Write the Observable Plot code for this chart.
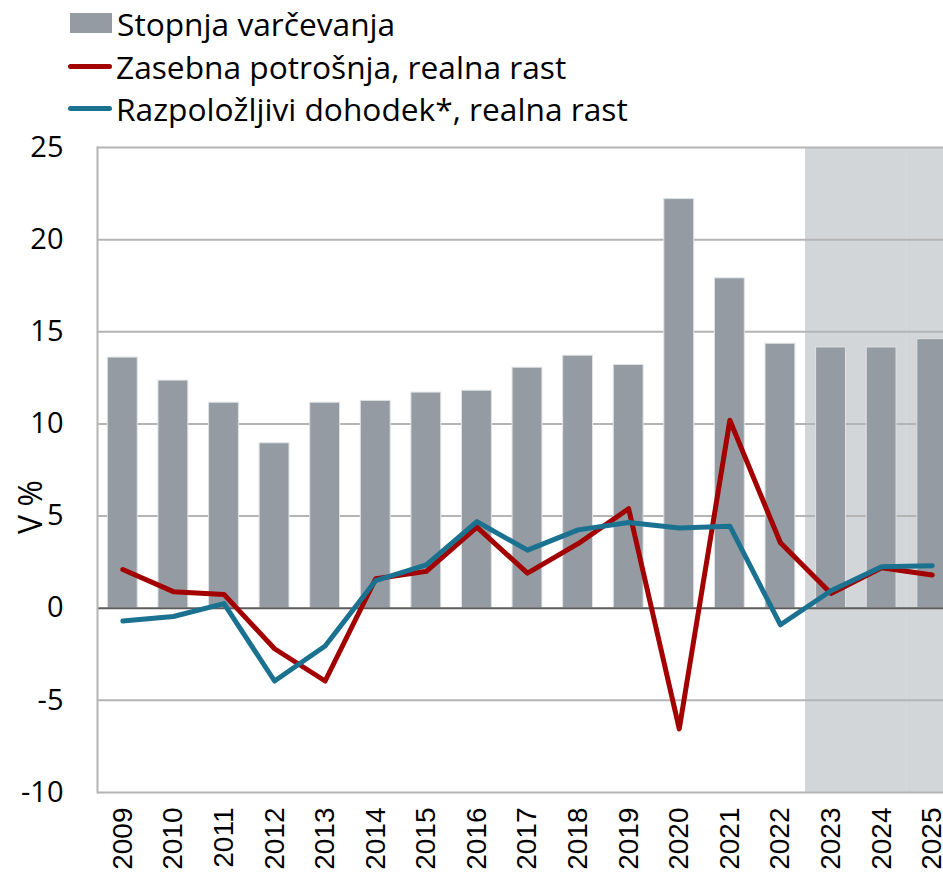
<!DOCTYPE html>
<html>
<head>
<meta charset="utf-8">
<script src="https://cdn.jsdelivr.net/npm/d3@7"></script>
<script src="https://cdn.jsdelivr.net/npm/@observablehq/plot@0.6"></script>
<style>
  html, body { margin: 0; padding: 0; background: #fff; overflow: hidden; width: 943px; height: 872px; }
  #legend { position: relative; height: 115px; width: 943px; font-family: "Open Sans", sans-serif; font-size: 31.7px; color: #000; }
  .item { position: absolute; left: 68px; height: 40px; display: flex; align-items: center; white-space: nowrap; }
  .sw-bar { width: 42px; height: 20px; background: #949ba2; margin-left: 2px; margin-right: 5px; }
  .sw-line { width: 44px; height: 5px; border-radius: 3px; margin-right: 4px; }
  #chart { width: 943px; overflow: hidden; }
  #chart svg { display: block; max-width: none !important; width: 960px !important; height: 757px !important; }
</style>
</head>
<body>
<div id="legend">
  <div class="item" style="top:3px"><div class="sw-bar"></div><span>Stopnja varčevanja</span></div>
  <div class="item" style="top:46px"><div class="sw-line" style="background:#a30000"></div><span>Zasebna potrošnja, realna rast</span></div>
  <div class="item" style="top:88px"><div class="sw-line" style="background:#1b7290"></div><span>Razpoložljivi dohodek*, realna rast</span></div>
</div>
<div id="chart"></div>
<script>
const years = ["2009","2010","2011","2012","2013","2014","2015","2016","2017","2018","2019","2020","2021","2022","2023","2024","2025"];
const savingRate = [13.6, 12.35, 11.15, 8.95, 11.15, 11.25, 11.7, 11.8, 13.05, 13.7, 13.2, 22.2, 17.9, 14.35, 14.15, 14.15, 14.6];
const consumption = [2.1, 0.9, 0.75, -2.2, -3.95, 1.6, 2.0, 4.4, 1.9, 3.5, 5.4, -6.55, 10.2, 3.55, 0.8, 2.2, 1.8];
const income = [-0.7, -0.45, 0.25, -3.95, -2.05, 1.5, 2.35, 4.7, 3.15, 4.25, 4.65, 4.35, 4.45, -0.9, 0.95, 2.25, 2.3];
const forecastYears = ["2023","2024","2025"];
const yTicks = [-10, -5, 0, 5, 10, 15, 20, 25];
const gridTicks = [-10, -5, 5, 10, 15, 20, 25];

const rows = years.map((y, i) => ({year: y, saving: savingRate[i], cons: consumption[i], inc: income[i]}));

const chart = Plot.plot({
  width: 960,
  height: 757,
  marginTop: 32,
  marginBottom: 80,
  marginLeft: 97,
  marginRight: 3,
  style: {fontFamily: "Open Sans, sans-serif", background: "transparent", maxWidth: "none"},
  x: {type: "band", domain: years, paddingInner: 0.41, paddingOuter: 0.205, round: false, label: null},
  y: {domain: [-10, 25], label: null},
  marks: [
    Plot.barY(forecastYears, {x: d => d, y1: -10, y2: 25, fill: "#d3d6d9", insetLeft: -10.6, insetRight: -10.6}),
    Plot.ruleY(gridTicks, {stroke: "#b4b4b4", strokeWidth: 2}),
    Plot.barY(rows, {x: "year", y: "saving", fill: "#949ba2", stroke: "#dfe2e4", strokeWidth: 1}),
    Plot.ruleY([0], {stroke: "#5c5c5c", strokeWidth: 2}),
    Plot.frame({anchor: "left", stroke: "#b4b4b4", strokeWidth: 2}),
    Plot.line(rows, {x: "year", y: "cons", stroke: "#a30000", strokeWidth: 5, strokeLinejoin: "round", strokeLinecap: "round"}),
    Plot.line(rows, {x: "year", y: "inc", stroke: "#1b7290", strokeWidth: 5, strokeLinejoin: "round", strokeLinecap: "round"}),
    Plot.axisY(yTicks, {tickSize: 0, tickPadding: 34, fontSize: 29, fill: "#000", label: null, tickFormat: d => String(d)}),
    Plot.axisX(years, {tickSize: 0, tickPadding: 15, tickRotate: -90, fontSize: 28, fontFamily: "Liberation Sans, Arial, sans-serif", fill: "#000", label: null}),
    Plot.text(["V %"], {frameAnchor: "left", textAnchor: "middle", rotate: -90, dx: -66, dy: 37, fontSize: 32, fill: "#000"})
  ]
});
document.getElementById("chart").appendChild(chart);
</script>
</body>
</html>
